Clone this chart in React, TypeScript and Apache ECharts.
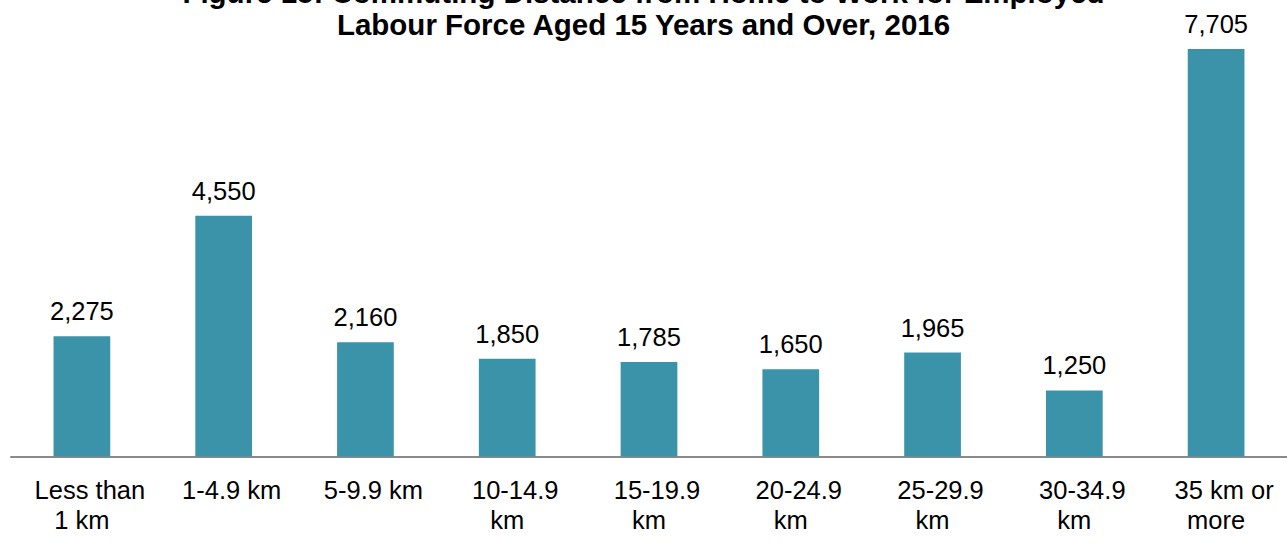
import React, { useEffect, useRef } from "react";
import * as echarts from "echarts";

const titleLines = [
  "Figure 15: Commuting Distance from Home to Work for Employed",
  "Labour Force Aged 15 Years and Over, 2016",
];
const categories = [
  "Less than 1 km",
  "1-4.9 km",
  "5-9.9 km",
  "10-14.9 km",
  "15-19.9 km",
  "20-24.9 km",
  "25-29.9 km",
  "30-34.9 km",
  "35 km or more",
];
const values = [2275, 4550, 2160, 1850, 1785, 1650, 1965, 1250, 7705];

const FONT = '"Liberation Sans", Arial, sans-serif';
const LABEL_SIZE = 25.5;

function wrapLines(text: string, maxWidth: number): string[] {
  const canvas = document.createElement("canvas");
  const ctx = canvas.getContext("2d");
  if (!ctx) return [text];
  ctx.font = `${LABEL_SIZE}px ${FONT}`;
  const words = text.split(" ");
  const lines: string[] = [];
  let cur = "";
  for (const w of words) {
    const test = cur ? cur + " " + w : w;
    if (cur && ctx.measureText(test).width > maxWidth) {
      lines.push(cur);
      cur = w;
    } else {
      cur = test;
    }
  }
  if (cur) lines.push(cur);
  return lines;
}

export default function App() {
  const ref = useRef<HTMLDivElement>(null);
  useEffect(() => {
    document.body.style.margin = "0";
    if (!ref.current) return;
    const chart = echarts.init(ref.current, null, { renderer: "svg" });
    chart.setOption({
      animation: false,
      backgroundColor: "#ffffff",
      title: {
        text: titleLines.join("\n"),
        left: "center",
        top: -24,
        padding: 0,
        textStyle: {
          fontFamily: FONT,
          fontSize: 29.5,
          fontWeight: "bold",
          color: "#000",
          lineHeight: 32,
          align: "center",
        },
      },
      grid: { left: 11, right: -6, top: 33.4, bottom: 88.5, containLabel: false },
      xAxis: {
        type: "category",
        data: categories,
        axisLine: { show: true, lineStyle: { color: "#8a8a8a", width: 2 } },
        axisTick: { show: false },
        axisLabel: {
          interval: 0,
          margin: 18,
          color: "#000",
          fontFamily: FONT,
          fontSize: LABEL_SIZE,
          lineHeight: 30,
          align: "center",
          formatter: (v: string) => {
            const lines = wrapLines(v, 122);
            return lines
              .map((l, i) => (i === 0 ? "{pad|}{t|" + l + "}" : "{t|" + l + "}"))
              .join("\n");
          },
          rich: {
            pad: { width: 16, height: 30 },
            t: {
              fontFamily: FONT,
              fontSize: LABEL_SIZE,
              color: "#000",
              lineHeight: 30,
            },
          },
        },
      },
      yAxis: {
        type: "value",
        min: 0,
        max: 8000,
        show: false,
        splitLine: { show: false },
      },
      series: [
        {
          type: "bar",
          data: values,
          barWidth: "40%",
          itemStyle: { color: "#3A93A8" },
          label: {
            show: true,
            position: "top",
            distance: 12,
            color: "#000",
            fontFamily: FONT,
            fontSize: LABEL_SIZE,
            formatter: (p: any) => Number(p.value).toLocaleString("en-US"),
          },
        },
      ],
    });
    return () => chart.dispose();
  }, []);
  return <div ref={ref} style={{ width: 1287, height: 545 }} />;
}
